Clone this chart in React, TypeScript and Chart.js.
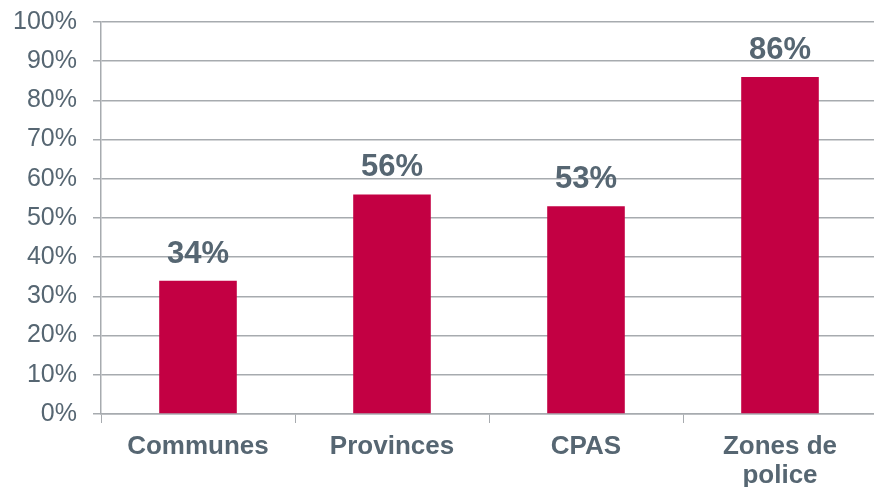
import React, { useEffect, useRef } from "react";
import { Chart, registerables } from "chart.js";

Chart.register(...registerables);

const categories: (string | string[])[] = ["Communes", "Provinces", "CPAS", ["Zones de", "police"]];
const values: number[] = [34, 56, 53, 86];
const yTicks: number[] = [0, 10, 20, 30, 40, 50, 60, 70, 80, 90, 100];

const BAR_COLOR = "#C30043";
const TEXT_COLOR = "#566672";
const GRID_COLOR = "#A7ABAF";
const FONT = "Arial, 'Liberation Sans', sans-serif";

const valueLabels = {
  id: "valueLabels",
  afterDatasetsDraw(chart: any) {
    const ctx = chart.ctx;
    const meta = chart.getDatasetMeta(0);
    ctx.save();
    ctx.font = `bold 31px ${FONT}`;
    ctx.fillStyle = TEXT_COLOR;
    ctx.textAlign = "center";
    ctx.textBaseline = "alphabetic";
    meta.data.forEach((bar: any, i: number) => {
      ctx.fillText(`${values[i]}%`, bar.x, bar.y - 18);
    });
    ctx.restore();
  },
};

export default function App() {
  const ref = useRef<HTMLCanvasElement>(null);
  useEffect(() => {
    if (!ref.current) return;
    const chart = new Chart(ref.current, {
      type: "bar",
      data: {
        labels: categories,
        datasets: [
          {
            data: values,
            backgroundColor: BAR_COLOR,
            barPercentage: 0.4,
            categoryPercentage: 1,
          },
        ],
      },
      options: {
        animation: false,
        responsive: false,
        maintainAspectRatio: false,
        layout: { padding: { top: 22, right: 23, bottom: 0, left: 0 } },
        plugins: { legend: { display: false }, tooltip: { enabled: false } },
        scales: {
          x: {
            grid: {
              offset: true,
              drawOnChartArea: false,
              drawTicks: true,
              tickLength: 9,
              color: GRID_COLOR,
            },
            border: { display: true, color: GRID_COLOR, width: 1.5 },
            ticks: {
              color: TEXT_COLOR,
              font: { family: FONT, size: 26, weight: "bold", lineHeight: 1.12 },
              padding: 9,
              maxRotation: 0,
              autoSkip: false,
            },
            afterFit(scale: any) {
              scale.height = 73;
              scale.paddingLeft = 0;
              scale.paddingRight = 0;
            },
          },
          y: {
            min: 0,
            max: 100,
            afterBuildTicks(scale: any) {
              scale.ticks = yTicks.map((v) => ({ value: v }));
            },
            grid: {
              color: GRID_COLOR,
              lineWidth: 1.5,
              drawTicks: true,
              tickLength: 8,
            },
            border: { display: true, color: GRID_COLOR, width: 1.5 },
            ticks: {
              color: TEXT_COLOR,
              font: { family: FONT, size: 25 },
              padding: 16,
              callback: (v: any) => `${v}%`,
            },
            afterFit(scale: any) {
              scale.width = 101;
              scale.paddingTop = 0;
              scale.paddingBottom = 0;
            },
          },
        },
      },
      plugins: [valueLabels],
    });
    return () => chart.destroy();
  }, []);
  return (
    <div style={{ position: "fixed", left: 0, top: 0, width: 900, height: 487, background: "#fff" }}>
      <canvas ref={ref} width={900} height={487} style={{ width: 900, height: 487, display: "block" }} />
    </div>
  );
}
